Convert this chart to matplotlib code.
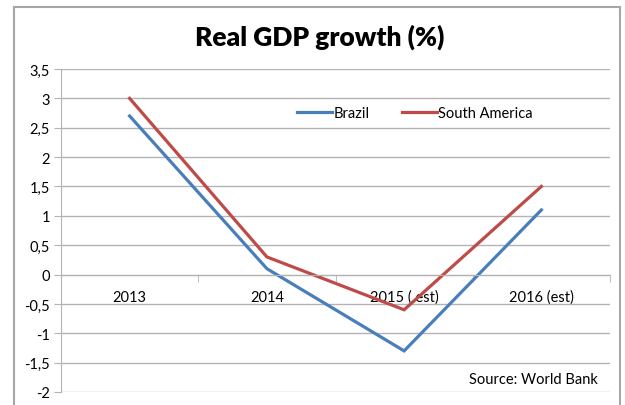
import matplotlib
matplotlib.use('Agg')
import matplotlib.pyplot as plt
import matplotlib.ticker
from matplotlib.patches import Rectangle

categories = ['2013', '2014', '2015 ( est)', '2016 (est)']
brazil = [2.7, 0.1, -1.3, 1.1]
south_america = [3.0, 0.3, -0.6, 1.5]
y_ticks = [-2, -1.5, -1, -0.5, 0, 0.5, 1, 1.5, 2, 2.5, 3, 3.5]

plt.rcParams['font.family'] = ['Lato', 'DejaVu Sans']

fig = plt.figure(figsize=(6.25, 4.06), dpi=100)
ax = fig.add_axes([61/625, 1-393/406, (610-61)/625, (393-70)/406])

grid_col = '#b3b3b3'
x = list(range(len(categories)))
ax.plot(x, brazil, color='#4a7ebb', lw=2.3, label='Brazil', solid_joinstyle='miter')
ax.plot(x, south_america, color='#be4b48', lw=2.3, label='South America', solid_joinstyle='miter')

ax.set_xlim(-0.5, len(categories)-0.5)
ax.set_ylim(-2, 3.5)
ax.set_yticks(y_ticks)
ax.yaxis.set_major_formatter(matplotlib.ticker.FuncFormatter(
    lambda v, p: ('%g' % v).replace('.', ',')))
ax.yaxis.grid(True, color=grid_col, lw=1)
ax.set_axisbelow(True)

ax.set_xticks(x)
ax.set_xticklabels(categories)
ax.set_xticks([i + 0.5 for i in range(len(categories))], minor=True)
ax.tick_params(axis='x', which='major', length=0, pad=11, labelsize=10.5)
ax.tick_params(axis='x', which='minor', length=5, color=grid_col, direction='out')
ax.tick_params(axis='y', length=5, color=grid_col, labelsize=10.5, pad=3)

for s in ['top', 'right']:
    ax.spines[s].set_visible(False)
ax.spines['bottom'].set_position(('data', 0))
ax.spines['bottom'].set_color(grid_col)
ax.spines['left'].set_color(grid_col)

fig.text(320/625, 1-37/406, 'Real GDP growth (%)', ha='center', va='center',
         fontsize=19, fontweight='heavy')
fig.legend(loc='center', bbox_to_anchor=(415/625, 1-114/406), ncol=2, frameon=False,
           fontsize=10.5, handlelength=2.4, handletextpad=0.1, columnspacing=2.2)
fig.text(598/625, 1-380/406, 'Source: World Bank', ha='right', va='center', fontsize=10.5)

fig.patches.append(Rectangle((14/625, -0.05), (620-14)/625, 1.05-8/406,
                             transform=fig.transFigure, fill=False,
                             edgecolor='#a6a6a6', lw=1.5))

plt.savefig('out.png', dpi=100)
